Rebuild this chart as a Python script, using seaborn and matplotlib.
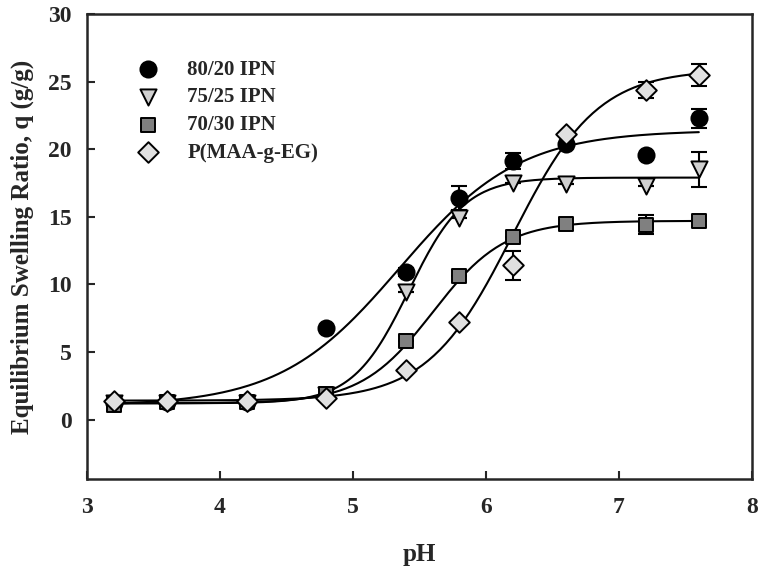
import numpy as np
import pandas as pd
import seaborn as sns
import matplotlib.pyplot as plt

# pH values where swelling was measured
ph = [3.2, 3.6, 4.2, 4.8, 5.4, 5.8, 6.2, 6.6, 7.2, 7.6]

# Equilibrium swelling ratio q (g/g) for each gel
q_8020 = [1.2, 1.3, 1.3, 6.8, 10.9, 16.4, 19.1, 20.4, 19.6, 22.3]
q_7525 = [1.2, 1.2, 1.2, 1.8, 9.4, 14.9, 17.5, 17.4, 17.3, 18.5]
q_7030 = [1.1, 1.3, 1.3, 1.9, 5.8, 10.6, 13.5, 14.5, 14.4, 14.7]
q_maa = [1.4, 1.4, 1.4, 1.6, 3.7, 7.2, 11.4, 21.1, 24.4, 25.5]

# error bars (0 = none visible)
err_8020 = [0, 0, 0, 0, 0.3, 0.9, 0.6, 0, 0, 0.7]
err_7525 = [0, 0, 0, 0, 0, 0, 0, 0, 0, 1.3]
err_7030 = [0, 0, 0, 0, 0, 0, 0, 0, 0.7, 0]
err_maa = [0, 0, 0, 0, 0, 0, 1.1, 0, 0.6, 0.8]

# sigmoid fit parameters: y0, a, x0, b
fit_8020 = [1.0, 20.4, 5.35, 0.45]
fit_7525 = [1.2, 16.7, 5.42, 0.21]
fit_7030 = [1.2, 13.5, 5.60, 0.27]
fit_maa = [1.4, 24.5, 6.20, 0.32]

labels = ['80/20 IPN', '75/25 IPN', '70/30 IPN', 'P(MAA-g-EG)']

series = [
    (labels[0], q_8020, err_8020, fit_8020, 'o', 'black', 135),
    (labels[1], q_7525, err_7525, fit_7525, 'v', '#d0d0d0', 135),
    (labels[2], q_7030, err_7030, fit_7030, 's', '#808080', 110),
    (labels[3], q_maa, err_maa, fit_maa, 'D', '#e0e0e0', 110),
]

sns.set_style('ticks')
plt.rcParams['font.family'] = ['Liberation Serif', 'DejaVu Serif']
plt.rcParams['font.weight'] = 'bold'

fig = plt.figure(figsize=(7.62, 5.74), dpi=100)
ax = fig.add_axes([0.1142, 0.1655, 0.8727, 0.810])

xs = np.linspace(min(ph), max(ph), 200)
for name, q, err, p, m, fc, sz in series:
    y0, a, x0, b = p
    sns.lineplot(x=xs, y=y0 + a / (1 + np.exp(-(xs - x0) / b)), color='black',
                 linewidth=1.5, ax=ax, zorder=2)
    ax.errorbar(ph, q, yerr=err, fmt='none', ecolor='black', elinewidth=1.5,
                capsize=5.5, capthick=1.5, zorder=3)

for name, q, err, p, m, fc, sz in series:
    sns.scatterplot(x=ph, y=q, marker=m, s=sz, color=fc, edgecolor='black',
                    linewidth=1.4, ax=ax, label=name, zorder=4)

ax.set_xlim(3, 8)
ax.set_ylim(-4.4, 30)
ax.set_xticks([3, 4, 5, 6, 7, 8])
ax.set_yticks([0, 5, 10, 15, 20, 25, 30])
ax.tick_params(direction='in', length=6, width=1.5, labelsize=17)
ax.tick_params(axis='x', pad=13)
ax.tick_params(axis='y', pad=11)
for lab in ax.get_xticklabels() + ax.get_yticklabels():
    lab.set_fontweight('bold')
for s in ax.spines.values():
    s.set_linewidth(1.8)
    s.set_visible(True)

ax.set_xlabel('pH', fontsize=18, fontweight='bold', labelpad=18)
ax.set_ylabel('Equilibrium Swelling Ratio, q (g/g)', fontsize=18, fontweight='bold', labelpad=10)

leg = ax.legend(loc='upper left', bbox_to_anchor=(0.064, 0.92), frameon=False,
                fontsize=15, handlelength=1.0, handletextpad=1.37,
                labelspacing=0.37, borderaxespad=0)
for t in leg.get_texts():
    t.set_fontweight('bold')

fig.savefig('out.png', dpi=100)
